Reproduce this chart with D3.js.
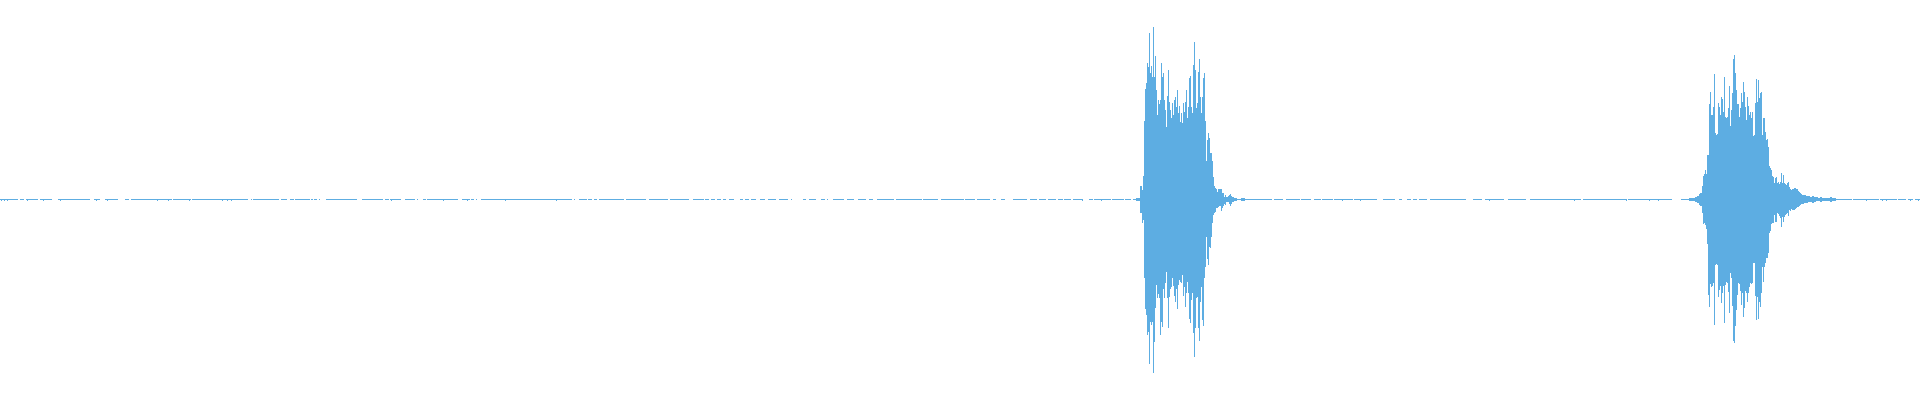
<!DOCTYPE html>
<html>
<head>
<meta charset="utf-8">
<script src="https://cdn.jsdelivr.net/npm/d3@7"></script>
<style>
  html, body { margin: 0; padding: 0; background: #fff; }
  svg { display: block; }
</style>
</head>
<body>
<svg id="wave"></svg>
<script>
// number of peak bins in the waveform (one per column)
const binCount = 1920;

// quiet background: bins where the signal is barely above zero [startBin, endBin]
const quietRuns = [
  [0, 13], [14, 17], [20, 23], [26, 37], [40, 51], [58, 89], [94, 99], [105, 117],
  [125, 128], [131, 162], [163, 171], [173, 190], [192, 247], [251, 251], [253, 278],
  [281, 286], [290, 293], [295, 309], [311, 312], [314, 316], [319, 319], [326, 356],
  [362, 382], [385, 388], [390, 400], [405, 414], [417, 417], [423, 425], [427, 457],
  [462, 469], [471, 473], [476, 476], [481, 571], [574, 574], [579, 586], [588, 591],
  [594, 596], [599, 623], [626, 645], [649, 667], [670, 688], [693, 703], [705, 708],
  [711, 714], [717, 720], [723, 725], [729, 733], [740, 742], [745, 748], [751, 755],
  [760, 764], [768, 775], [779, 787], [791, 791], [803, 805], [809, 815], [821, 824],
  [827, 827], [833, 843], [847, 853], [858, 865], [869, 872], [877, 893], [896, 921],
  [923, 937], [941, 963], [965, 974], [977, 989], [993, 995], [1001, 1004], [1013, 1026],
  [1030, 1036], [1039, 1045], [1048, 1055], [1058, 1062], [1064, 1070], [1073, 1081],
  [1089, 1092], [1094, 1104], [1105, 1110], [1112, 1117], [1118, 1120], [1121, 1123],
  [1125, 1130],
  [1257, 1271], [1274, 1282], [1286, 1299], [1301, 1310], [1314, 1320], [1322, 1332],
  [1334, 1352], [1354, 1376], [1383, 1394], [1399, 1401], [1407, 1410], [1413, 1416],
  [1419, 1426], [1430, 1465], [1473, 1481], [1485, 1503], [1508, 1525], [1530, 1580],
  [1583, 1626], [1628, 1671],
  [1843, 1851], [1853, 1865], [1867, 1878], [1880, 1896], [1898, 1905], [1908, 1912],
  [1915, 1919]
];
const quietMax = 0.5;
const quietMin = 0;

// bins in the quiet parts that dip one step below zero
const quietDips = [
  1, 4, 7, 27, 43, 60, 96, 107, 157, 168, 189, 222, 227, 231, 391, 443, 467, 505, 556,
  1082, 1101, 1255, 1342, 1360, 1489, 1574, 1626, 1649, 1658, 1683, 1866, 1882, 1886,
  1910, 1918
];
const dipMin = -0.7;

// first burst, one value per bin starting at burst1Start (amplitude in % of full scale)
const burst1Start = 1133;
const burst1Max = [
  0.7, 0.7, 0.7, 1.2, 1.2, 1.2, 1.2, 7, 7, 5, 12, 39.5, 55.5, 58.7, 68.7, 66.7, 83.3,
  63.3, 67, 61.7, 86.7, 61.3, 72, 55, 42.5, 50, 48, 50, 68.7, 61.7, 63.3, 50, 45, 36.7,
  52, 65, 49.2, 45, 40.8, 48.3, 42.5, 50, 51.7, 46.7, 55, 43.3, 47, 39.2, 43.3, 38.3,
  48.3, 44.2, 49.2, 55, 40.8, 46.7, 60.8, 62, 46.7, 43.3, 67.5, 79, 65, 45.8, 48.3,
  64.2, 70.3, 51.3, 43.3, 51.3, 60.8, 63.3, 39.7, 19.5, 30, 33.7, 30.8, 23.3, 23.7,
  19.5, 11.7, 7, 6.2, 5.3, 4.2, 5.7, 5.3, 5.3, 5.7, 3.7, 3.3, 1.7, 2.5, 1.3, 1.7, 2,
  2.5, 3.2, 2, 1.7, 1.3, 1.2, 1, 1, 0.7, 0.7, 0.7, 0.7, 1.2, 1.2, 1, 1, 0.7, 0.7, 0.5,
  0.5, 0.7, 0.7, 0.5, 0.5, 0.5, 0.5, 0.5, 0.5
];
const burst1Min = [
  -0.2, -0.2, -0.2, -0.7, -0.7, -0.7, -0.7, -6.3, -6.3, -11.3, -10, -39.2, -54.7,
  -57.5, -67.5, -65.8, -82, -60.8, -62.5, -60.8, -86.3, -70.8, -54.2, -42.5, -49.2,
  -47, -49.2, -67.5, -60.8, -63.3, -44.7, -49.2, -41.7, -35.8, -49.2, -64.2, -48.3,
  -44.7, -43.3, -39.2, -43, -48, -50.8, -44.7, -54.7, -42.5, -40, -40.8, -41.7, -37.5,
  -48, -43.3, -53.3, -46.7, -40.8, -46.7, -59.7, -61.3, -50, -46.7, -66.7, -78.3,
  -64.2, -49.2, -48.3, -64.2, -70.3, -50.8, -43.3, -60, -63, -39.2, -33.3, -18.7,
  -29.7, -32.5, -23.3, -24.2, -18.7, -11.3, -7.5, -6.7, -6, -4.2, -4.2, -3.3, -3, -3,
  -5.3, -4.2, -3, -2, -2.5, -1.2, -1, -1, -2, -3, -2, -0.8, -0.8, -0.3, -0.3, -0.3, 0,
  0, 0, 0, -0.5, -0.5, -0.5, -0.5, 0, 0, 0, 0, 0, 0, 0, 0, 0, 0, 0, 0
];

// second burst
const burst2Start = 1681;
const burst2Max = [
  0.5, 0.5, 0.5, 0.5, 0.5, 0.5, 0.5, 0.5, 1, 1, 1, 1, 1, 1, 1.5, 1.5, 2, 2, 3, 3.7, 3.7,
  7, 12, 13, 15, 13, 22.5, 22.5, 48, 54.2, 42.5, 42.5, 46.7, 63, 33.3, 32.5, 32.8, 48.3,
  46.7, 42.5, 51.7, 50.3, 44.2, 61.3, 41.7, 40.8, 41.7, 45.8, 57, 37, 45, 53.3, 70.3,
  72.5, 63.7, 55, 48, 48, 41.3, 45.8, 53.7, 49.2, 59.2, 54.2, 46.7, 40, 51.3, 47, 42.5,
  44.2, 40.8, 44.2, 32, 32.5, 48.3, 60.3, 49.2, 60, 50.8, 53.7, 54.2, 32.5, 40.8, 40.8,
  33.8, 30, 30.3, 26.3, 17, 15.8, 15, 12, 11.7, 8.3, 10.8, 11.3, 8.7, 9.2, 7.8, 9.2,
  13.3, 8.7, 12.5, 8.7, 8, 7.5, 8.7, 9.2, 6.7, 5.7, 5, 5.3, 5.7, 5.8, 6.2, 5.3, 5.3,
  4.7, 4.2, 3.7, 3, 2.5, 2.5, 2.5, 2.5, 2, 2, 2, 2, 1.7, 1.7, 2, 2, 1.3, 1.3, 1.3, 1.3,
  1, 1, 1.3, 1.3, 1, 1, 1, 1, 1, 1, 1, 1, 1.3, 1.3, 1, 1, 1, 1, 0.7, 0.7, 0.7, 0.7, 0.7,
  0.7, 0.7
];
const burst2Min = [
  -0.2, -0.2, -0.2, -0.2, -0.2, -0.2, -0.2, -0.2, -0.7, -0.7, -0.7, -0.7, -0.7, -0.7,
  -1, -1, -1.7, -1.7, -2.3, -3, -3, -6.3, -12, -11.3, -12.5, -14.7, -22, -47.5, -53.3,
  -42, -43.3, -43, -41.7, -62.5, -32.5, -32, -32.5, -48.3, -45, -43, -51.7, -46.7, -43,
  -61.3, -42.5, -40.8, -41.7, -45.8, -56.3, -36.7, -39.2, -53, -70.3, -71.7, -63, -55,
  -47.5, -41.3, -42, -45.3, -52.7, -46.3, -58.3, -54.2, -45.3, -46.7, -50.8, -46.3,
  -43.7, -41.7, -42, -41.3, -31.7, -31.7, -48, -60, -48.3, -59.7, -50.8, -53.7, -46.7,
  -33.3, -41.2, -33.3, -31.7, -29.2, -29.2, -26.7, -16.7, -15.3, -12, -11.3, -11.3,
  -7.5, -10.8, -10.8, -6.7, -7, -8, -9.2, -13.3, -8.7, -10.8, -8.7, -7.5, -7, -6.7, -8,
  -5, -5.3, -4.7, -5, -5, -5, -4.7, -4.2, -3.7, -3.7, -3, -2.3, -2, -2, -2, -1.7, -1.7,
  -1.3, -1.3, -1, -1, -1, -1, -1.3, -1.3, -0.8, -0.8, -0.5, -0.5, -0.3, -0.3, -0.8,
  -0.8, -0.5, -0.5, -0.5, -0.5, -0.5, -0.5, -0.5, -0.5, -0.8, -0.8, -0.5, -0.5, -0.5,
  -0.5, 0, 0, 0, 0, 0, 0, 0
];

const width = 1920;
const height = 400;
const waveColor = "#5dade2";

// build the peak table from the arrays above
const peaks = d3.range(binCount).map(function(i) { return { bin: i, max: 0, min: 0 }; });

quietRuns.forEach(function(r) {
  for (let i = r[0]; i <= r[1]; i++) {
    peaks[i].max = quietMax;
    peaks[i].min = quietMin;
  }
});

quietDips.forEach(function(i) {
  peaks[i].max = Math.max(peaks[i].max, quietMax);
  peaks[i].min = dipMin;
});

function addBurst(start, maxs, mins) {
  maxs.forEach(function(v, k) {
    peaks[start + k].max = v;
    peaks[start + k].min = mins[k];
  });
}
addBurst(burst1Start, burst1Max, burst1Min);
addBurst(burst2Start, burst2Max, burst2Min);

const svg = d3.select("#wave")
  .attr("width", width)
  .attr("height", height);

const xScale = d3.scaleLinear()
  .domain([0, binCount])
  .range([0, width]);

const yScale = d3.scaleLinear()
  .domain([-100, 100])
  .range([height, 0]);

// one bar per bin from min to max, skipping silent bins
svg.append("g")
  .attr("shape-rendering", "crispEdges")
  .selectAll("rect")
  .data(peaks.filter(function(d) { return d.max !== 0 || d.min !== 0; }))
  .enter().append("rect")
  .attr("x", function(d) { return xScale(d.bin); })
  .attr("width", function(d) { return xScale(d.bin + 1) - xScale(d.bin); })
  .attr("y", function(d) { return yScale(d.max); })
  .attr("height", function(d) { return Math.max(1, yScale(d.min) - yScale(d.max)); })
  .attr("fill", waveColor);
</script>
</body>
</html>
